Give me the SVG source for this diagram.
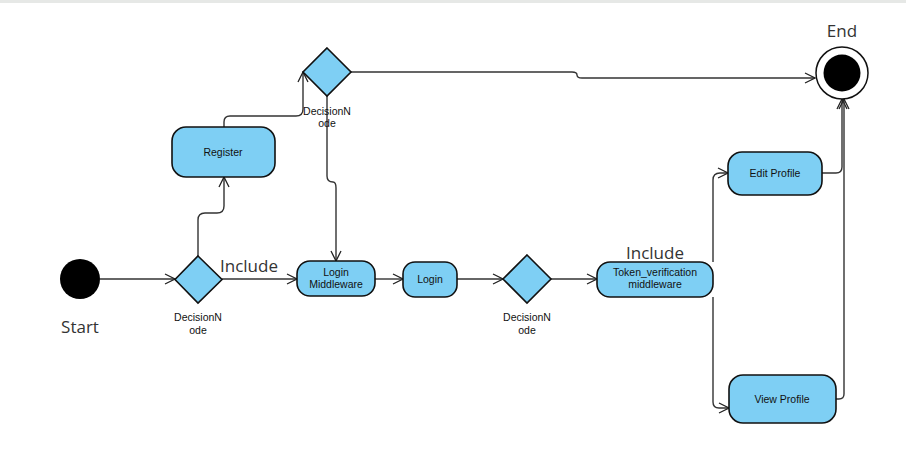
<svg xmlns="http://www.w3.org/2000/svg" width="906" height="460" viewBox="0 0 906 460">
<defs>
<marker id="arr" viewBox="0 0 12 12" refX="11" refY="6" markerWidth="12" markerHeight="12" markerUnits="userSpaceOnUse" orient="auto">
<path d="M1,1 L11,6 L1,11" fill="none" stroke="#222" stroke-width="1.3"/>
</marker>
</defs>
<style>
.node{fill:#7ecff4;stroke:#111;stroke-width:1.6}
.lbl{font-family:"Liberation Sans",Arial,sans-serif;font-size:10.5px;fill:#111;text-anchor:middle}
.big{font-family:"Open Sans","Noto Sans",sans-serif;font-size:17px;fill:#333;text-anchor:middle}
.con{fill:none;stroke:#333;stroke-width:1.4;marker-end:url(#arr)}
</style>
<rect x="0" y="0" width="906" height="3" fill="#e6e8e6"/>
<g id="connectors">
<path class="con" d="M100,279 L175,279"/>
<path class="con" d="M222,279 L297,279"/>
<path class="con" d="M198,256 L198,220 Q198,213 205,213 L217,213 Q224,213 224,206 L224,177"/>
<path class="con" d="M224,127 L224,122 Q224,116 230,116 L296,116 Q303,116 303,109 L303,72"/>
<path class="con" d="M327,96 L327,176 Q327,182 333,182 Q336,182 336,188 L336,261"/>
<path class="con" d="M351,72 L572,72 Q577,72 577,75 Q577,78 582,78 L815,78"/>
<path class="con" d="M375,279 L403,279"/>
<path class="con" d="M457,279 L503,279"/>
<path class="con" d="M551,279 L597,279"/>
<path class="con" d="M713,262 L713,180 Q713,173 720,173 L728,173"/>
<path class="con" d="M713,297 L713,402 Q713,408 719,408 L729,408"/>
<path class="con" d="M822,173 L836,173 Q842,173 842,167 L842,99"/>
<path class="con" d="M836,399 L839,399 Q844,399 844,394 L844,99"/>
</g>
<g id="start">
<circle cx="80" cy="279" r="20" fill="#000"/>
<text class="big" x="80" y="333">Start</text>
</g>
<g id="decision1">
<polygon class="node" points="198,256 222,279.5 198,303 175,279.5"/>
<text class="lbl" x="198" y="321">DecisionN</text>
<text class="lbl" x="198" y="334">ode</text>
</g>
<text class="big" x="249" y="272">Include</text>
<g id="register">
<rect class="node" x="172" y="127" width="103" height="50" rx="14"/>
<text class="lbl" x="223" y="155.5">Register</text>
</g>
<g id="decision2">
<polygon class="node" points="327,48 351,72 327,96 303,72"/>
<text class="lbl" x="327" y="115">DecisionN</text>
<text class="lbl" x="327" y="127">ode</text>
</g>
<g id="loginMiddleware">
<rect class="node" x="297" y="261" width="78" height="35" rx="13"/>
<text class="lbl" x="336" y="276">Login</text>
<text class="lbl" x="336" y="288">Middleware</text>
</g>
<g id="login">
<rect class="node" x="403" y="262" width="54" height="35" rx="12"/>
<text class="lbl" x="430" y="283">Login</text>
</g>
<g id="decision3">
<polygon class="node" points="527,255 551,279 527,303 503,279"/>
<text class="lbl" x="527" y="321">DecisionN</text>
<text class="lbl" x="527" y="334">ode</text>
</g>
<g id="token">
<rect class="node" x="597" y="262" width="116" height="35" rx="13"/>
<text class="lbl" x="655" y="276">Token_verification</text>
<text class="lbl" x="655" y="288">middleware</text>
</g>
<text class="big" x="655" y="259">Include</text>
<g id="editProfile">
<rect class="node" x="728" y="152" width="94" height="43" rx="14"/>
<text class="lbl" x="775" y="177">Edit Profile</text>
</g>
<g id="viewProfile">
<rect class="node" x="729" y="375" width="107" height="48" rx="14"/>
<text class="lbl" x="782" y="402.5">View Profile</text>
</g>
<g id="end">
<circle cx="842" cy="73" r="26" fill="#fff" stroke="#111" stroke-width="1.5"/>
<circle cx="842" cy="73" r="18.5" fill="#000"/>
<text class="big" x="842" y="37">End</text>
</g>
</svg>
